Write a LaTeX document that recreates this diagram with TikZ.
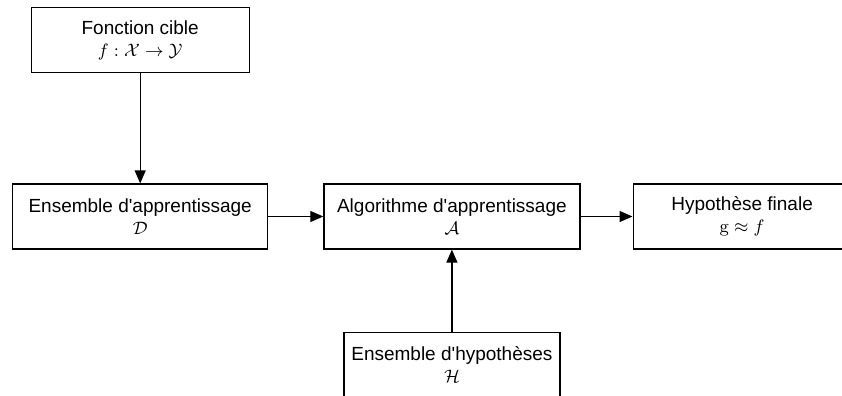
\documentclass[tikz,border=0pt]{standalone}
\usepackage{amsmath, amssymb}
\usepackage[no-math]{fontspec}
\setmainfont[Ligatures=TeXOff]{Liberation Sans}
\usetikzlibrary{arrows.meta, positioning}
\tikzset{
  boite/.style={draw, line width=0.6pt, align=center, inner sep=3pt, minimum height=32.5pt,
    font=\fontsize{9.5}{11}\selectfont},
  fleche/.style={-{Triangle[length=6.5pt, width=5.5pt]}, line width=0.6pt},
}

\begin{document}
\begin{tikzpicture}
    \useasboundingbox (0,0) rectangle (421pt,-198pt);
    \node[boite, minimum width=127.5pt] (D) at (70.1pt,-108.25pt)
      {Ensemble d'apprentissage\\$\mathcal{D}$};
    \node[boite, minimum width=128pt, right=27.5pt of D] (A)
      {Algorithme d'apprentissage\\$\mathcal{A}$};
    \node[boite, minimum width=109pt, right=26pt of A] (G)
      {Hypothèse finale\\$\mathrm{g} \approx f$};
    \node[boite, minimum width=109pt, above=55pt of D] (F)
      {Fonction cible\\$f : \mathcal{X} \to \mathcal{Y}$};
    \node[boite, minimum width=108pt, below=41pt of A] (H)
      {Ensemble d'hypothèses\\$\mathcal{H}$};

    \draw[fleche] (F) -- (D);
    \draw[fleche] (D) -- (A);
    \draw[fleche] (A) -- (G);
    \draw[fleche] (H) -- (A);
  \end{tikzpicture}
\end{document}
